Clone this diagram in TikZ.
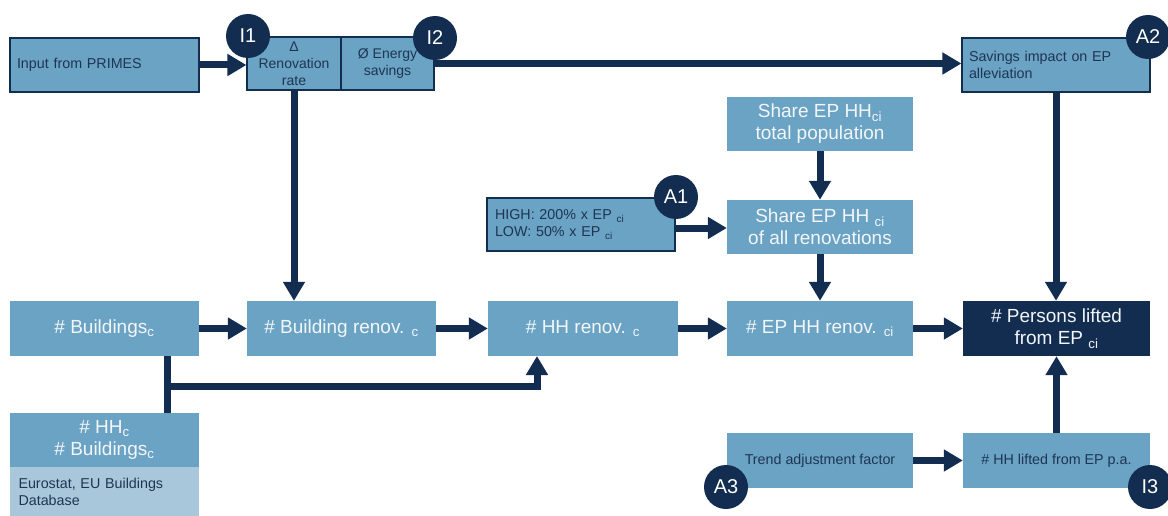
\documentclass[tikz,border=0pt]{standalone}
\usepackage{fontspec}
\setmainfont{Liberation Sans}
\usetikzlibrary{arrows.meta,calc}
\definecolor{boxblue}{HTML}{6AA3C4}
\definecolor{lightblue}{HTML}{A9C7DA}
\definecolor{navy}{HTML}{122D50}
\definecolor{darktext}{HTML}{1E3552}
\definecolor{whitetext}{HTML}{F3F6F9}
\tikzset{
  box/.style={rectangle, fill=boxblue, inner sep=0pt, align=center, text=whitetext,
    font=\fontsize{19}{22}\selectfont},
  smallbox/.style={rectangle, fill=boxblue, draw=navy, line width=1.2pt, inner sep=0pt,
    text=darktext, font=\fontsize{14.3}{17}\selectfont},
  plainsmall/.style={rectangle, fill=boxblue, inner sep=0pt, align=center, text=darktext,
    font=\fontsize{14.3}{17}\selectfont},
  badge/.style={circle, fill=navy, text=white, minimum size=44pt, inner sep=0pt,
    font=\fontsize{20}{22}\selectfont},
  flow/.style={draw=navy, line width=7pt, -{Triangle[width=21pt,length=19pt]}},
  flowline/.style={draw=navy, line width=7pt},
}
\begin{document}
\begin{tikzpicture}[x=1pt,y=-1pt]
\useasboundingbox (0,0) rectangle (1168,516);
\fill[white] (0,0) rectangle (1168,516);

% top row
\node[smallbox, minimum width=189pt, minimum height=54pt, text width=175pt, align=left] (prim) at (104.5,65) {Input from PRIMES};
\node[smallbox, minimum width=94pt, minimum height=53pt, align=center, font=\fontsize{14}{17}\selectfont] (reno) at (294,63.5) {Δ\\Renovation\\rate};
\node[smallbox, minimum width=93pt, minimum height=53pt, align=center, font=\fontsize{14}{17}\selectfont] (ensav) at (387.5,63.5) {Ø Energy\\savings};
\node[smallbox, minimum width=188pt, minimum height=54pt, text width=174pt, align=left] (savimp) at (1056,65) {Savings impact on EP\\alleviation};

% share boxes
\node[box, minimum width=186pt, minimum height=54pt] (sharetot) at (820,124) {Share EP HH\textsubscript{ci}\\total population};
\node[box, minimum width=186pt, minimum height=54pt] (shareall) at (820,227) {Share EP HH \textsubscript{ci}\\of all renovations};
\node[smallbox, minimum width=188pt, minimum height=53pt, text width=172pt, align=left] (highlow) at (581,224.5) {HIGH: 200\% x EP \textsubscript{ci}\\LOW: 50\% x EP \textsubscript{ci}};

% main row
\node[box, minimum width=189pt, minimum height=55pt] (bld) at (104.5,328.5) {\# Buildings\textsubscript{c}};
\node[box, minimum width=189pt, minimum height=55pt] (bren) at (341.5,328.5) {\# Building renov. \textsubscript{c}};
\node[box, minimum width=190pt, minimum height=55pt] (hhren) at (583,328.5) {\# HH renov. \textsubscript{c}};
\node[box, minimum width=186pt, minimum height=55pt] (epren) at (820,328.5) {\# EP HH renov. \textsubscript{ci}};
\node[box, fill=navy, minimum width=187pt, minimum height=55pt] (pers) at (1056.5,328.5) {\# Persons lifted\\from EP \textsubscript{ci}};

% bottom left
\node[box, minimum width=189pt, minimum height=54pt] (hhc) at (104.5,440) {\# HH\textsubscript{c}\\\# Buildings\textsubscript{c}};
\node[plainsmall, fill=lightblue, minimum width=189pt, minimum height=49pt, text width=172pt, align=left] (euro) at (104.5,491.5) {Eurostat, EU Buildings\\Database};

% bottom right
\node[plainsmall, minimum width=186pt, minimum height=55pt] (trend) at (820,460.5) {Trend adjustment factor};
\node[plainsmall, minimum width=187pt, minimum height=55pt] (hhlift) at (1056.5,460.5) {\# HH lifted from EP p.a.};

% connectors
\path[flow] (prim.east) -- (prim.east -| reno.west);
\path[flow] (ensav.east) -- (ensav.east -| savimp.west);
\path[flow] (reno.south) -- (reno.south |- bren.north);
\path[flow] (savimp.south) -- (savimp.south |- pers.north);
\path[flow] (sharetot.south) -- (shareall.north);
\path[flow] (shareall.south) -- (epren.north);
\path[flow] ($(highlow.east)+(0,3.5)$) -- ($(highlow.east -| shareall.west)+(0,3.5)$);
\path[flow] (bld.east) -- (bren.west);
\path[flow] (bren.east) -- (hhren.west);
\path[flow] (hhren.east) -- (epren.west);
\path[flow] (epren.east) -- (pers.west);
\path[flow] (trend.east) -- (hhlift.west);
\path[flow] (hhlift.north) -- (hhlift.north |- pers.south);

\coordinate (br) at (167,386);
\coordinate (hhin) at (537,356);
\path[flowline] (bld.south -| br) -- (hhc.north -| br);
\path[flow] ([xshift=-3.5pt]br) -| (hhin);

% badges
\node[badge] (i1) at (248,36) {I1};
\node[badge] (i2) at (435,38) {I2};
\node[badge] (a2) at (1148,37) {A2};
\node[badge] (a1) at (676,197) {A1};
\node[badge] (a3) at (726,487) {A3};
\node[badge] (i3) at (1150,487) {I3};
\end{tikzpicture}
\end{document}
